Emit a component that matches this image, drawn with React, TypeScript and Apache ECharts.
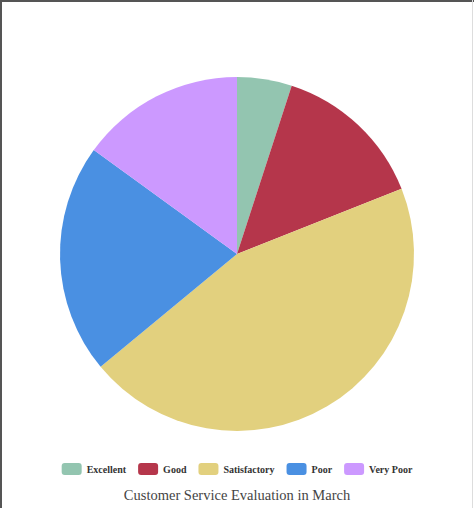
import * as echarts from 'echarts';
import { useEffect, useRef } from 'react';

const categories = ['Excellent', 'Good', 'Satisfactory', 'Poor', 'Very Poor'];
const values = [5, 14, 45, 21, 15];
const colors = ['#93c5b0', '#b5364b', '#e2d07e', '#4a90e2', '#cc99ff'];
const chartTitle = 'Customer Service Evaluation in March';

function App() {
  const chartRef = useRef(null);

  useEffect(() => {
    const myChart = echarts.init(chartRef.current, null, { renderer: 'svg' });

    const option = {
      animation: false,
      color: colors,
      title: {
        text: chartTitle,
        left: 'center',
        top: 482,
        textStyle: {
          fontFamily: 'Liberation Serif',
          fontSize: 14.5,
          fontWeight: 'normal',
          color: '#444',
        },
      },
      legend: {
        top: 458,
        left: 'center',
        itemWidth: 20,
        itemHeight: 12,
        itemGap: 12,
        icon: 'roundRect',
        textStyle: {
          fontFamily: 'Liberation Serif',
          fontSize: 10,
          fontWeight: 'bold',
          color: '#333',
        },
        data: categories,
      },
      graphic: [
        { type: 'rect', shape: { x: 0, y: 0, width: 474, height: 2 }, style: { fill: '#555' } },
        { type: 'rect', shape: { x: 0, y: 0, width: 2, height: 508 }, style: { fill: '#555' } },
        { type: 'rect', shape: { x: 472, y: 0, width: 1, height: 508 }, style: { fill: '#ddd' } },
      ],
      series: [
        {
          name: chartTitle,
          type: 'pie',
          center: [237, 254],
          radius: 177,
          startAngle: 90,
          clockwise: true,
          label: { show: false },
          labelLine: { show: false },
          data: categories.map((name, i) => ({ name, value: values[i] })),
        },
      ],
    };

    myChart.setOption(option);

    return () => {
      myChart.dispose();
    };
  }, []);

  return (
    <div
      ref={chartRef}
      style={{ position: 'fixed', left: 0, top: 0, width: '474px', height: '508px', background: '#fff' }}
    ></div>
  );
}

export default App;
